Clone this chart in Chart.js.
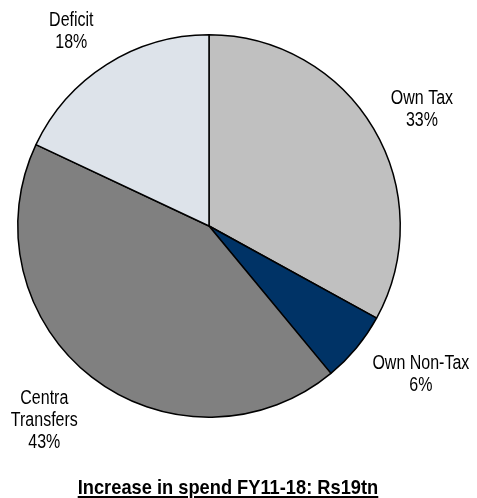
<!DOCTYPE html>
<html>
<head>
<meta charset="utf-8">
<script src="https://cdn.jsdelivr.net/npm/chart.js@4.4.1/dist/chart.umd.min.js"></script>
<style>
    html, body { margin: 0; padding: 0; background: #fff; }
    #wrap { position: relative; width: 477px; height: 498px; }
    #pie { position: absolute; left: 0; top: 0; }
    #title {
        position: absolute; left: 0; top: 475px; width: 456px;
        text-align: center; line-height: 21px; white-space: nowrap;
        font: bold 21px 'Liberation Sans', Arial, sans-serif;
        text-decoration: underline; color: #000;
        transform: scaleX(0.87); transform-origin: 228px 50%;
    }
</style>
</head>
<body>
<div id="wrap">
    <canvas id="pie" width="477" height="498"></canvas>
    <div id="title">Increase in spend FY11-18: Rs19tn</div>
</div>
<script>
// 支出増加の財源内訳 (%)
const categories = ['Own Tax', 'Own Non-Tax', 'Centra Transfers', 'Deficit'];
const labelLines = [['Own Tax'], ['Own Non-Tax'], ['Centra', 'Transfers'], ['Deficit']];
const shares = [33, 6, 43, 18];
const sliceColors = ['#c0c0c0', '#003366', '#808080', '#dde3ea'];

const LABEL_FONT = "20px 'Liberation Sans', Arial, sans-serif";
const NARROW = 0.8;      // 横幅を詰めて細身の書体に見せる
const LINE_HEIGHT = 22;
const LABEL_GAP = 13;
const LABEL_HGAP = 6;

// 円の外側にラベルを描く (Excel の「外側」配置に近い置き方)
const outsideLabels = {
    id: 'outsideLabels',
    afterDatasetsDraw: (chart) => {
        const ctx = chart.ctx;
        const meta = chart.getDatasetMeta(0);
        ctx.save();
        ctx.font = LABEL_FONT;
        ctx.fillStyle = '#000';
        ctx.textAlign = 'center';
        ctx.textBaseline = 'middle';
        meta.data.forEach((arc, i) => {
            const p = arc.getProps(['x', 'y', 'startAngle', 'endAngle', 'outerRadius'], true);
            const mid = (p.startAngle + p.endAngle) / 2;
            const ux = Math.cos(mid);
            const uy = Math.sin(mid);
            const r = p.outerRadius + LABEL_GAP;
            const ax = p.x + r * ux;
            const ay = p.y + r * uy;

            const lines = [...labelLines[i], shares[i] + '%'];
            const w = Math.max(...lines.map((t) => ctx.measureText(t).width)) * NARROW;
            const h = lines.length * LINE_HEIGHT;
            const cx = ax + (LABEL_HGAP + w / 2) * Math.sign(ux);
            const cy = ay + (h / 2) * (uy / Math.max(Math.abs(ux), Math.abs(uy)));

            lines.forEach((t, k) => {
                ctx.save();
                ctx.translate(cx, cy - h / 2 + LINE_HEIGHT * (k + 0.5));
                ctx.scale(NARROW, 1);
                ctx.fillText(t, 0, 0);
                ctx.restore();
            });
        });
        ctx.restore();
    },
};

new Chart(document.getElementById('pie').getContext('2d'), {
    type: 'pie',
    data: {
        labels: categories,
        datasets: [
            {
                data: shares,
                backgroundColor: sliceColors,
                borderColor: '#000000',
                borderWidth: 1.5,
                borderAlign: 'center',
            },
        ],
    },
    options: {
        responsive: false,
        animation: false,
        layout: { padding: { left: 17, top: 34, right: 76, bottom: 80 } },
        plugins: {
            legend: { display: false },
            tooltip: { enabled: false },
        },
    },
    plugins: [outsideLabels],
});
</script>
</body>
</html>
